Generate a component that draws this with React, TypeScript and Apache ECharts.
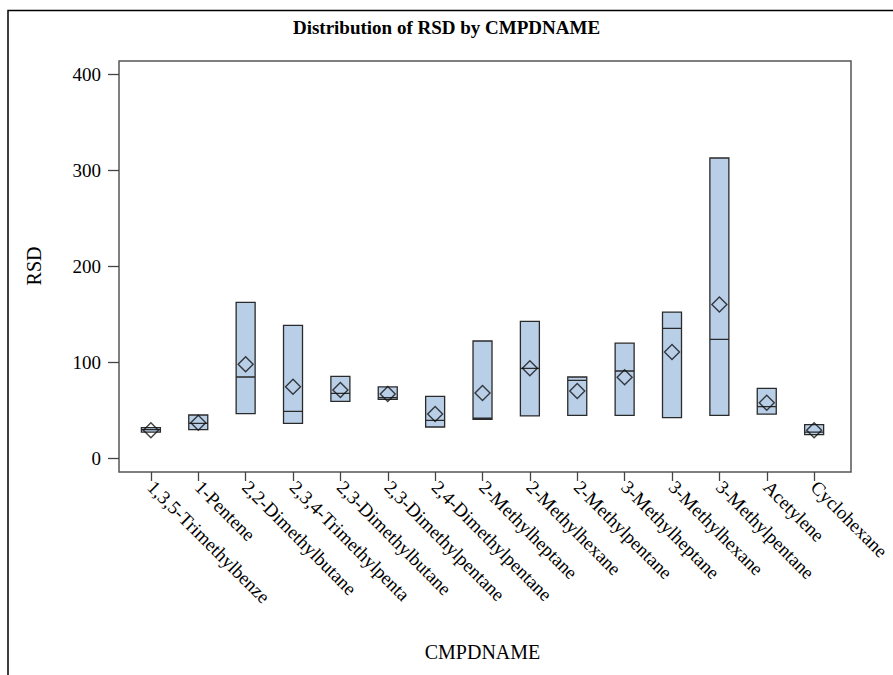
import React, { useEffect, useRef } from "react";
import * as echarts from "echarts";

const categories = [
  "1,3,5-Trimethylbenze",
  "1-Pentene",
  "2,2-Dimethylbutane",
  "2,3,4-Trimethylpenta",
  "2,3-Dimethylbutane",
  "2,3-Dimethylpentane",
  "2,4-Dimethylpentane",
  "2-Methylheptane",
  "2-Methylhexane",
  "2-Methylpentane",
  "3-Methylheptane",
  "3-Methylhexane",
  "3-Methylpentane",
  "Acetylene",
  "Cyclohexane",
];
const q1Values = [27, 29.5, 46.2, 36.1, 59, 61.1, 32.3, 40.3, 43.8, 44.4, 44.4, 42, 44.4, 45.8, 24.3];
const medianValues = [29.5, 36, 84.4, 48.6, 67.4, 62.8, 39.2, 41.5, 93.4, 80.9, 90.6, 135.1, 123.6, 53.5, 27];
const q3Values = [31.6, 44.8, 162.2, 138.2, 85.1, 74, 64.2, 121.9, 142.4, 84.4, 119.6, 152, 312.5, 72.6, 34.7];
const meanValues = [29, 36.8, 97.6, 74.3, 70.8, 66.7, 45.8, 67.7, 93.4, 69.8, 84, 110.4, 160, 57.6, 29];
const yTicks = [0, 100, 200, 300, 400];

const FONT = "'Liberation Serif', 'Times New Roman', serif";

export default function App() {
  const ref = useRef<HTMLDivElement>(null);
  useEffect(() => {
    if (!ref.current) return;
    const chart = echarts.init(ref.current, null, { renderer: "svg" });
    const boxData = categories.map((_, i) => [q1Values[i], q1Values[i], medianValues[i], q3Values[i], q3Values[i]]);
    // y pixel mapping: 0 -> 458, 400 -> 74 ; frame 61..472
    const pxPer = 384 / 400;
    const dataMin = -(472 - 458) / pxPer;
    const dataMax = 400 + (74 - 61) / pxPer;
    chart.setOption({
      animation: false,
      backgroundColor: "#ffffff",
      textStyle: { fontFamily: FONT, color: "#000" },
      title: {
        text: "Distribution of RSD by CMPDNAME",
        left: "center",
        top: 13,
        textStyle: { fontFamily: FONT, fontSize: 19, fontWeight: "bold", color: "#000" },
      },
      graphic: [
        {
          type: "rect",
          shape: { x: 8, y: 10.5, width: 1000, height: 1000 },
          style: { fill: "none", stroke: "#000", lineWidth: 1.5 },
          silent: true,
        },
      ],
      grid: [
        { left: 119, top: 61, width: 732, height: 411, show: true, borderColor: "#555", borderWidth: 1.5, backgroundColor: "transparent" },
        { left: 119, top: 74, width: 732, height: 384, show: false },
        { left: 127.2, top: 61, width: 713.6, height: 411, show: false },
      ],
      xAxis: [
        { gridIndex: 0, type: "value", show: false, min: 0, max: 1 },
        { gridIndex: 1, type: "value", show: false, min: 0, max: 1 },
        {
          gridIndex: 2,
          type: "category",
          position: "bottom",
          data: categories,
          boundaryGap: true,
          name: "CMPDNAME",
          nameLocation: "middle",
          nameGap: 170,
          nameTextStyle: { fontFamily: FONT, fontSize: 20, color: "#000" },
          axisLine: { show: false, onZero: false },
          axisTick: { show: true, alignWithLabel: true, length: 9, lineStyle: { color: "#444", width: 1.3 } },
          axisLabel: { interval: 0, rotate: -45, fontFamily: FONT, fontSize: 19, color: "#000", margin: 12 },
          splitLine: { show: false },
        },
      ],
      yAxis: [
        { gridIndex: 0, type: "value", show: false, min: 0, max: 1 },
        {
          gridIndex: 1,
          type: "value",
          min: 0,
          max: 400,
          interval: 100,
          name: "RSD",
          nameLocation: "middle",
          nameGap: 75,
          nameTextStyle: { fontFamily: FONT, fontSize: 20, color: "#000" },
          axisLine: { show: false, onZero: false },
          axisTick: { show: true, length: 11, lineStyle: { color: "#444", width: 1.3 } },
          axisLabel: {
            fontFamily: FONT,
            fontSize: 19,
            color: "#000",
            margin: 18,
            formatter: (v: number) => (yTicks.includes(v) ? String(v) : ""),
          },
          splitLine: { show: false },
        },
        {
          gridIndex: 2,
          type: "value",
          min: dataMin,
          max: dataMax,
          show: false,
          axisLine: { onZero: false },
          splitLine: { show: false },
        },
      ],
      series: [
        {
          type: "boxplot",
          xAxisIndex: 2,
          yAxisIndex: 2,
          data: boxData,
          boxWidth: [19, 19],
          itemStyle: { color: "#b9cfe8", borderColor: "#2a2a2a", borderWidth: 1.3 },
          emphasis: { disabled: true },
        },
        {
          type: "scatter",
          xAxisIndex: 2,
          yAxisIndex: 2,
          data: meanValues.map((v, i) => [i, v]),
          symbol: "diamond",
          symbolSize: 15,
          itemStyle: { color: "rgba(0,0,0,0)", borderColor: "#111", borderWidth: 1.4 },
          emphasis: { disabled: true },
        },
      ],
    });
    return () => chart.dispose();
  }, []);
  return (
    <div
      ref={ref}
      style={{ position: "absolute", left: 0, top: 0, width: 893, height: 675 }}
    />
  );
}
